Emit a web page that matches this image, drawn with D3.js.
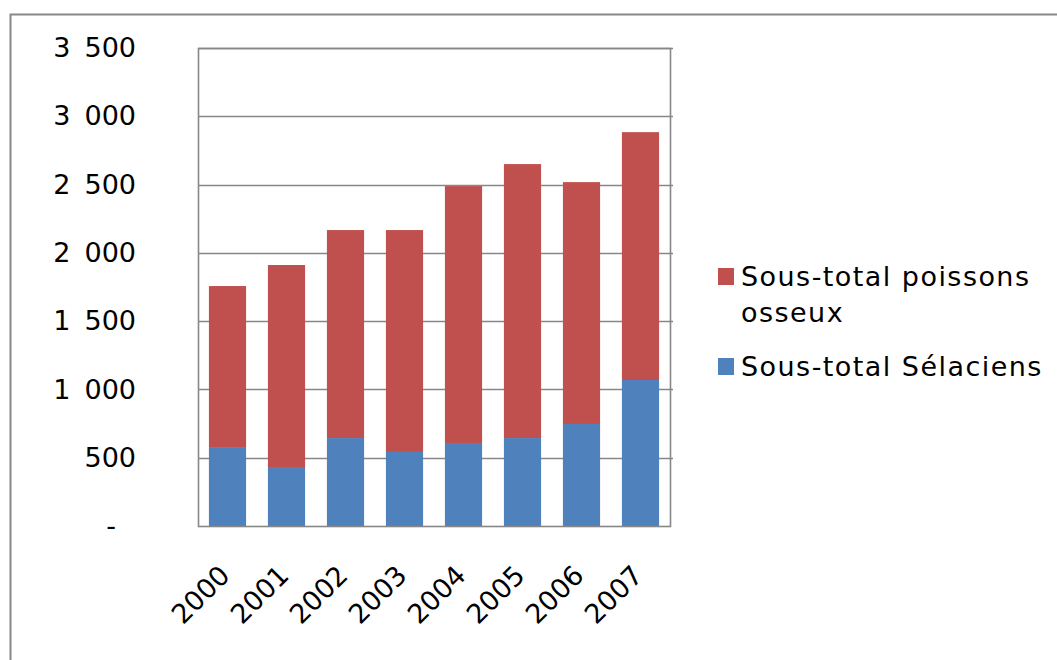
<!doctype html>
<html>
<head>
<meta charset="UTF-8">
<title>Sous-totaux</title>
<script src="https://cdn.jsdelivr.net/npm/d3@7"></script>
<style>
    body { margin: 0; background: #fff; }
    text { font-family: "DejaVu Sans", Verdana, sans-serif; fill: #000; }
    .tick text { font-size: 27px; }
    .legend text { font-size: 27px; letter-spacing: 1.45px; }
</style>
</head>
<body>
<script>
    var years = ["2000", "2001", "2002", "2003", "2004", "2005", "2006", "2007"];
    var selaciens = [578, 432, 644, 542, 608, 644, 747, 1069];
    var osseux = [1179, 1479, 1523, 1625, 1881, 2006, 1771, 1815];
    var yTicks = [0, 500, 1000, 1500, 2000, 2500, 3000, 3500];
    var seriesNames = ["Sous-total Sélaciens", "Sous-total poissons osseux"];
    var colors = ["#4F81BD", "#C0504D"];

    var W = 1057, H = 660;
    var plot = { left: 198, top: 48, right: 670, bottom: 526 };

    var svg = d3.select("body").append("svg")
        .attr("width", W)
        .attr("height", H);

    // outer frame (only top and left visible)
    svg.append("path")
        .attr("d", "M10.5," + H + "V14.5H" + W)
        .attr("fill", "none")
        .attr("stroke", "#888")
        .attr("stroke-width", 2);

    var x = d3.scaleBand()
        .domain(years)
        .range([plot.left, plot.right])
        .paddingInner(0.37)
        .paddingOuter(0.185);

    var y = d3.scaleLinear()
        .domain([0, 3500])
        .range([plot.bottom, plot.top]);

    var loc = d3.formatLocale({ decimal: ",", thousands: "\u00a0\u2009", grouping: [3], currency: ["", " €"] });
    var fmt = loc.format(",d");

    // gridlines
    svg.append("g").selectAll("line")
        .data(yTicks.slice(1))
        .enter().append("line")
        .attr("x1", plot.left)
        .attr("x2", plot.right + 3)
        .attr("y1", function (d) { return Math.round(y(d)) + 0.5; })
        .attr("y2", function (d) { return Math.round(y(d)) + 0.5; })
        .attr("stroke", "#878787")
        .attr("stroke-width", 1.6);

    // y labels (excel style: zero shown as a dash, set in a bit)
    var yAxis = svg.append("g")
        .attr("transform", "translate(" + plot.left + ",0)")
        .call(d3.axisLeft(y).tickValues(yTicks).tickSize(0).tickPadding(62)
            .tickFormat(function (d) { return d === 0 ? "-" : fmt(d); }));
    yAxis.select(".domain").remove();
    yAxis.selectAll(".tick text")
        .filter(function (d) { return d === 0; })
        .attr("dx", -20);

    // stacked bars
    var table = years.map(function (yr, i) {
        return { year: yr, s0: selaciens[i], s1: osseux[i] };
    });
    var stack = d3.stack().keys(["s0", "s1"])(table);

    svg.append("g").selectAll("g")
        .data(stack)
        .enter().append("g")
        .attr("fill", function (d, i) { return colors[i]; })
        .selectAll("rect")
        .data(function (d) { return d; })
        .enter().append("rect")
        .attr("x", function (d) { return x(d.data.year); })
        .attr("width", x.bandwidth())
        .attr("y", function (d) { return y(d[1]); })
        .attr("height", function (d) { return y(d[0]) - y(d[1]); });

    // plot box
    svg.append("rect")
        .attr("x", plot.left + 0.5)
        .attr("y", plot.top + 0.5)
        .attr("width", plot.right - plot.left)
        .attr("height", plot.bottom - plot.top)
        .attr("fill", "none")
        .attr("stroke", "#878787")
        .attr("stroke-width", 1.6);

    // x labels, rotated
    var xAxis = svg.append("g")
        .attr("transform", "translate(0," + plot.bottom + ")")
        .call(d3.axisBottom(x).tickSize(0).tickPadding(0));
    xAxis.select(".domain").remove();
    xAxis.selectAll("text")
        .attr("text-anchor", "end")
        .attr("dy", 0)
        .attr("transform", "translate(4,51) rotate(-45)");

    // legend
    var legend = svg.append("g").attr("class", "legend");
    var items = [
        { lines: ["Sous-total poissons", "osseux"], color: colors[1], y: 268 },
        { lines: ["Sous-total Sélaciens"], color: colors[0], y: 358 }
    ];
    items.forEach(function (it) {
        legend.append("rect")
            .attr("x", 718).attr("y", it.y)
            .attr("width", 16).attr("height", 17)
            .attr("fill", it.color);
        it.lines.forEach(function (t, j) {
            legend.append("text")
                .attr("x", 741)
                .attr("y", it.y + 18 + j * 36)
                .text(t);
        });
    });
</script>
</body>
</html>
